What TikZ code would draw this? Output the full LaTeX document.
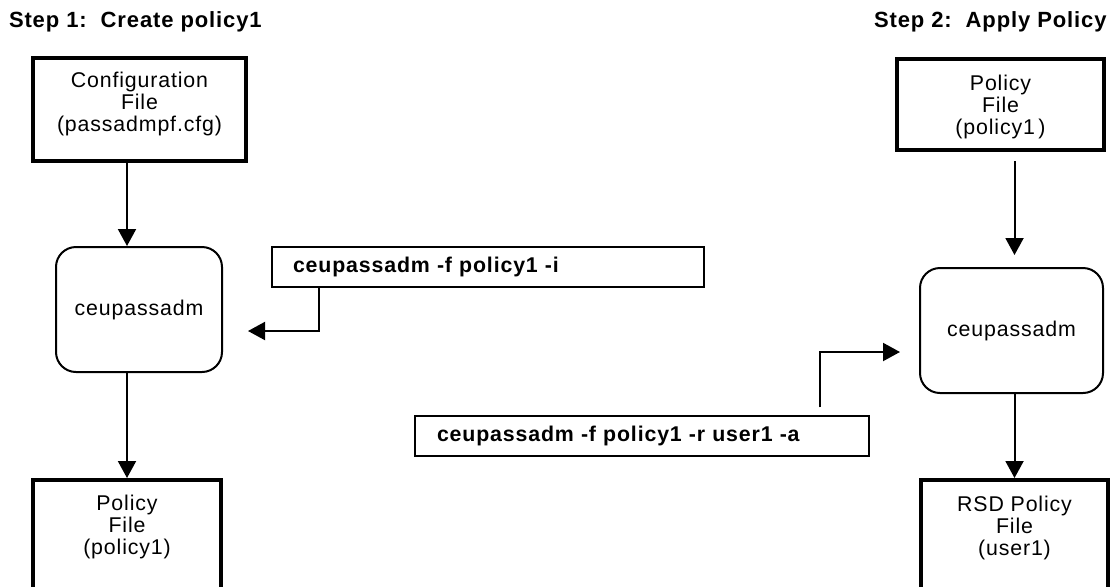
\documentclass[tikz,border=0pt]{standalone}
\usepackage{fontspec}
\setmainfont{Liberation Sans}[LetterSpace=4]
\usetikzlibrary{positioning,arrows.meta}
\tikzset{
  filebox/.style={draw,line width=3pt},
  toolbox/.style={draw,line width=1.5pt,rounded corners=15pt},
  cmdbox/.style={draw,line width=1.1pt,align=left,minimum height=30pt,font=\fontsize{16}{16.5}\selectfont\bfseries},
  boxtext/.style={align=center,inner sep=0pt},
  title/.style={anchor=base west,inner sep=0pt,font=\fontsize{16.5}{17}\selectfont\bfseries}
}
\begin{document}
\begin{tikzpicture}[x=0.75pt,y=0.75pt,->,>={Triangle[length=12.75pt,width=13.5pt]},line width=1.5pt,font=\fontsize{16}{16.5}\selectfont]
\useasboundingbox (0,0) rectangle (1112,-586);
\clip (0,0) rectangle (1112,-586);
\node (step1) [title] at (8,-27) {Step 1:\ \ Create policy1};
\node (step2) [title] at (873,-27) {Step 2:\ \ Apply Policy};

\node (cfg) [filebox,minimum width=159.75pt,minimum height=77.25pt] at (139.5,-109.5) {};
\node (cfgtext) [boxtext,below=11.25pt of cfg.north] {Configuration\\File\\(passadmpf.cfg)};
\node (tool1) [toolbox,minimum width=124.5pt,minimum height=93.75pt] at (139,-309.5) {ceupassadm};
\node (pol1) [filebox,minimum width=141pt,minimum height=97.5pt] at (127,-545) {};
\node (pol1text) [boxtext,below=12pt of pol1.north] {Policy\\File\\(policy1)};
\node (cmd1) [cmdbox,text width=292.5pt,inner xsep=15.75pt] at (488,-267) {ceupassadm -f policy1 -i};

\node (pol2) [filebox,minimum width=155.25pt,minimum height=68.25pt] at (1000.5,-104.5) {};
\node (pol2text) [boxtext,below=12.75pt of pol2.north] {Policy\\File\\(policy1\,)};
\node (tool2) [toolbox,minimum width=137.25pt,minimum height=93.75pt] at (1011.5,-330.5) {ceupassadm};
\node (rsd) [filebox,minimum width=140.25pt,minimum height=97.5pt] at (1014.5,-545) {};
\node (rsdtext) [boxtext,below=12.75pt of rsd.north] {RSD Policy\\File\\(user1)};
\node (cmd2) [cmdbox,text width=307.5pt,inner xsep=16.5pt] at (642,-436) {ceupassadm -f policy1 -r user1 -a};

\coordinate (in1) at (248,-331);
\coordinate (in2) at (900,-352);
\draw (cfg.south -| pol1) -- (tool1.north -| pol1);
\draw (tool1.south -| pol1) -- (pol1.north);
\draw [shorten <=6.75pt,shorten >=9pt] (pol2.south -| rsd) -- (tool2.north -| rsd);
\draw (tool2.south -| rsd) -- (rsd.north);
\draw ([xshift=36pt]cmd1.south west) |- (in1);
\draw [shorten <=6pt] ([xshift=-37.5pt]cmd2.north east) |- (in2);
\end{tikzpicture}
\end{document}
